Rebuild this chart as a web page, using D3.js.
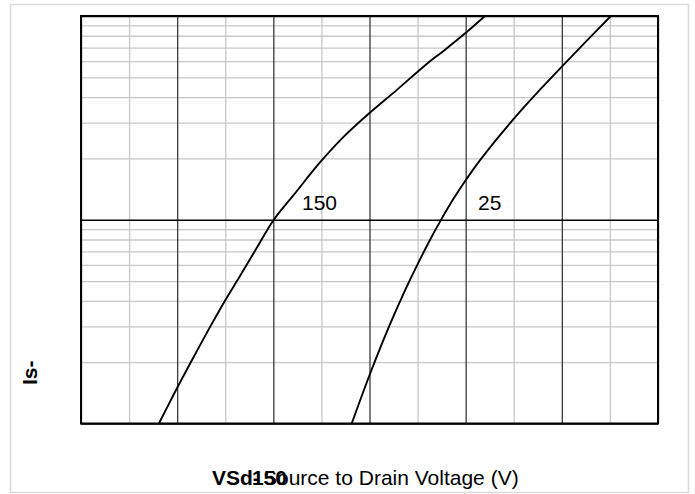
<!DOCTYPE html>
<html>
<head>
<meta charset="utf-8">
<title>Source to Drain Voltage</title>
<script src="https://d3js.org/d3.v7.min.js"></script>
<style>
  body { margin: 0; background: #fff; }
  text { font-family: "Liberation Sans", Arial, sans-serif; }
</style>
</head>
<body>
<div id="chart"></div>
<script>
// grid ticks
const xMajor = [0, 0.2, 0.4, 0.6, 0.8, 1.0, 1.2];
const xMinor = [0.1, 0.3, 0.5, 0.7, 0.9, 1.1];
const yMajor = [1, 10, 100];
const yMinor = [2, 3, 4, 5, 6, 7, 8, 9, 20, 30, 40, 50, 60, 70, 80, 90];

// curve at 150
const vsd150 = [0.162, 0.199, 0.227, 0.265, 0.300, 0.331, 0.365, 0.401, 0.442, 0.497, 0.546, 0.600, 0.657, 0.719, 0.754, 0.799, 0.840];
const is150  = [1.0, 1.48, 1.97, 2.88, 4.03, 5.31, 7.24, 10.0, 13.2, 19.1, 25.5, 33.4, 43.4, 58.2, 67.4, 82.2, 100];

// curve at 25
const vsd25 = [0.563, 0.601, 0.639, 0.677, 0.702, 0.726, 0.747, 0.774, 0.800, 0.830, 0.899, 0.955, 1.003, 1.052, 1.102];
const is25  = [1.0, 1.75, 2.93, 4.67, 6.18, 7.98, 9.82, 12.59, 15.63, 19.63, 31.1, 43.6, 57.4, 75.7, 100];

const curveNames = ["150", "25"];

const W = 695, H = 494;
const margin = {top: 16, right: 37, bottom: 70.5, left: 81};
const w = W - margin.left - margin.right;
const h = H - margin.top - margin.bottom;

const svg = d3.select("#chart").append("svg")
    .attr("width", W)
    .attr("height", H);

// outer frame
svg.append("rect")
    .attr("x", 10.5).attr("y", 4.5)
    .attr("width", 678).attr("height", 488)
    .attr("fill", "none")
    .attr("stroke", "#d9d9d9")
    .attr("stroke-width", 1.5);

const g = svg.append("g")
    .attr("transform", "translate(" + margin.left + "," + margin.top + ")");

const xScale = d3.scaleLinear().domain([0, 1.2]).range([0, w]);
const yScale = d3.scaleLog().domain([1, 100]).range([h, 0]);

function grid(axis, cls, color, width) {
    const sel = g.append("g").attr("class", cls).call(axis);
    sel.select(".domain").remove();
    sel.selectAll(".tick line").attr("stroke", color).attr("stroke-width", width);
    sel.selectAll(".tick text").remove();
    return sel;
}

// minor grid
grid(d3.axisBottom(xScale).tickValues(xMinor).tickSize(h).tickFormat(""), "xminor", "#c8c8c8", 1.3);
grid(d3.axisLeft(yScale).tickValues(yMinor).tickSize(-w).tickFormat(""), "yminor", "#c8c8c8", 1.3);
// major grid
grid(d3.axisBottom(xScale).tickValues(xMajor).tickSize(h).tickFormat(""), "xmajor", "#3a3a3a", 1.3);
grid(d3.axisLeft(yScale).tickValues(yMajor).tickSize(-w).tickFormat(""), "ymajor", "#000", 1.5);

// plot border
g.append("rect")
    .attr("width", w).attr("height", h)
    .attr("fill", "none")
    .attr("stroke", "#000")
    .attr("stroke-width", 2);

const line = d3.line()
    .x(d => xScale(d[0]))
    .y(d => yScale(d[1]))
    .curve(d3.curveCatmullRom.alpha(0.5));

const series = [d3.zip(vsd150, is150), d3.zip(vsd25, is25)];

g.selectAll(".curve")
    .data(series)
    .enter()
    .append("path")
    .attr("class", "curve")
    .attr("d", line)
    .attr("fill", "none")
    .attr("stroke", "#000")
    .attr("stroke-width", 1.9);

// curve labels
svg.append("text")
    .attr("x", 302).attr("y", 210)
    .attr("font-size", "21px")
    .text(curveNames[0]);
svg.append("text")
    .attr("x", 478).attr("y", 210)
    .attr("font-size", "21px")
    .text(curveNames[1]);

// axis titles (overlapping, as in the original)
svg.append("text")
    .attr("x", 212).attr("y", 485)
    .attr("font-size", "21px")
    .attr("font-weight", "bold")
    .text("VSd-");
svg.append("text")
    .attr("x", 252).attr("y", 485)
    .attr("font-size", "21px")
    .attr("font-weight", "bold")
    .text("150");
svg.append("text")
    .attr("x", 263).attr("y", 485)
    .attr("font-size", "21px")
    .text("Source to Drain Voltage (V)");

svg.append("text")
    .attr("transform", "translate(37,385) rotate(-90)")
    .attr("font-size", "21px")
    .attr("font-weight", "bold")
    .text("Is-");
</script>
</body>
</html>
